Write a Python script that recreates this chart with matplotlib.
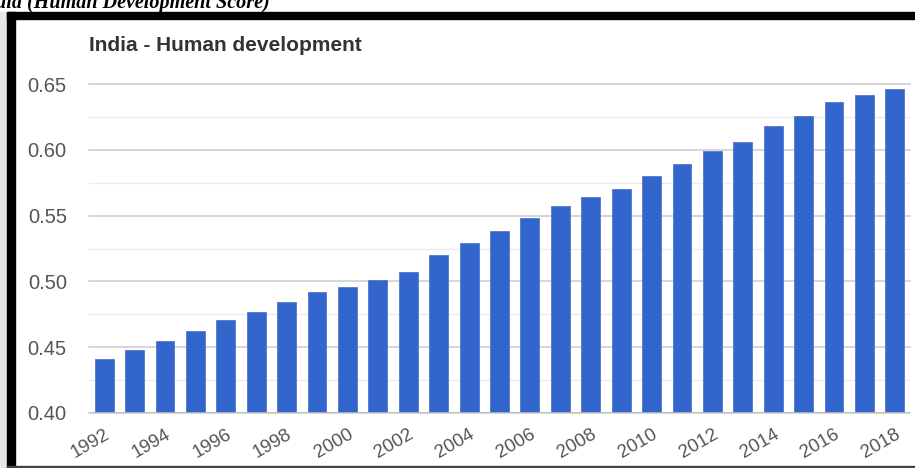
import matplotlib.pyplot as plt
from matplotlib.patches import Rectangle

years = list(range(1992, 2019))
hdi = [0.441, 0.448, 0.455, 0.462, 0.471, 0.477, 0.484, 0.492, 0.496, 0.501,
       0.507, 0.520, 0.529, 0.538, 0.548, 0.557, 0.564, 0.570, 0.580, 0.589,
       0.599, 0.606, 0.618, 0.626, 0.636, 0.642, 0.646]
yticks = [0.40, 0.45, 0.50, 0.55, 0.60, 0.65]

W, H = 915, 468
fig = plt.figure(figsize=(W / 100, H / 100), dpi=100)
plt.rcParams['font.family'] = ['Liberation Sans', 'DejaVu Sans']

# caption above the boxed chart (top half falls outside the image)
fig.text(270 / W, 1 - 8 / H, "India (Human Development Score)", ha='right', va='baseline',
         fontsize=14.5, family='Liberation Serif', weight='bold', style='italic', color='black')

# black frame
fig.patches.append(Rectangle((7 / W, 1 - 19 / H), 1, 7 / H, transform=fig.transFigure,
                             color='black', zorder=5))
fig.patches.append(Rectangle((7 / W, 0), 8 / W, 1 - 12 / H, transform=fig.transFigure,
                             color='black', zorder=5))
fig.patches.append(Rectangle((0, 0), 7 / W, 1 - 12 / H, transform=fig.transFigure,
                             color='#e6e6e6', zorder=4))
fig.patches.append(Rectangle((7 / W, 0), 1, 2 / H, transform=fig.transFigure,
                             color='#444444', zorder=5))

ax = fig.add_axes([89 / W, 1 - 413 / H, (910 - 89) / W, (413 - 84) / H])
x = range(len(years))
ax.bar(x, hdi, width=0.62, color='#3366cc', edgecolor='#5577cc', linewidth=0.6, zorder=3)

ax.set_xlim(-0.5, len(years) - 0.5)
ax.set_ylim(0.40, 0.65)
ax.set_yticks(yticks)
ax.set_yticklabels([f"{v:.2f}" for v in yticks])
ax.set_yticks([0.425, 0.475, 0.525, 0.575, 0.625], minor=True)
ax.grid(axis='y', which='major', color='#cccccc', linewidth=1.1, zorder=0)
ax.grid(axis='y', which='minor', color='#ececec', linewidth=1.0, zorder=0)
ax.axhline(0.40, color='#bbbbbb', linewidth=1.2, zorder=4)

ax.set_xticks(list(x)[::2])
ax.set_xticklabels([str(y) for y in years[::2]], rotation=30, ha='right',
                   rotation_mode='anchor')
ax.tick_params(axis='x', length=0, pad=9, labelsize=13.5, labelcolor='#555555')
ax.tick_params(axis='y', which='both', length=0, pad=16, labelsize=14.5, labelcolor='#555555')
for s in ax.spines.values():
    s.set_visible(False)
for gl in ax.get_ygridlines():
    gl.set_clip_on(False)

ax.text(0, 1.1, "India - Human development", transform=ax.transAxes,
        fontsize=15, weight='bold', color='#333333', ha='left', va='baseline')

fig.savefig('out.png', dpi=100)
